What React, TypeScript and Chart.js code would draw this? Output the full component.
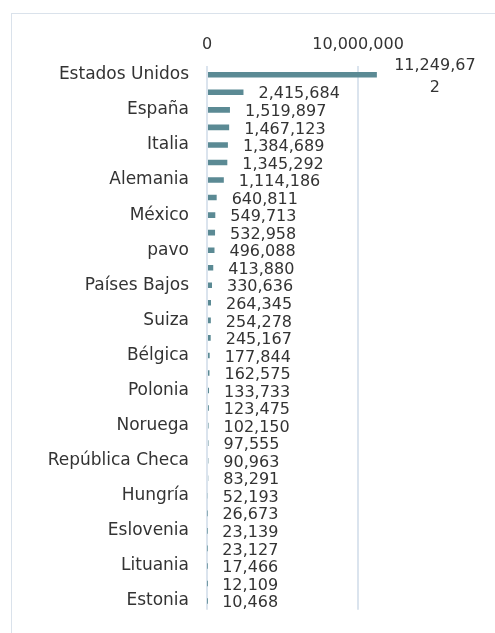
import React, { useEffect, useRef } from "react";
import { Chart, registerables } from "chart.js";

Chart.register(...registerables);

const categories: string[] = [
  "Estados Unidos", "Francia", "España", "Reino Unido", "Italia", "Canadá",
  "Alemania", "Japón", "México", "Austria", "pavo", "Suecia", "Países Bajos",
  "Israel", "Suiza", "Portugal", "Bélgica", "Grecia", "Polonia", "Dinamarca",
  "Noruega", "Irlanda", "República Checa", "Finlandia", "Hungría", "Eslovaquia",
  "Eslovenia", "Letonia", "Lituania", "Luxemburgo", "Estonia",
];

const values: number[] = [
  11249672, 2415684, 1519897, 1467123, 1384689, 1345292, 1114186, 640811,
  549713, 532958, 496088, 413880, 330636, 264345, 254278, 245167, 177844,
  162575, 133733, 123475, 102150, 97555, 90963, 83291, 52193, 26673, 23139,
  23127, 17466, 12109, 10468,
];

const axisMax = 20000000;
const axisStep = 10000000;

const FONT = "'DejaVu Sans', sans-serif";
const TEXT = "#333333";

const fmt = (v: number) => v.toLocaleString("en-US");

const valueLabels = {
  id: "valueLabels",
  afterDatasetsDraw(chart: any) {
    const ctx = chart.ctx;
    const meta = chart.getDatasetMeta(0);
    const maxW = 86;
    ctx.save();
    ctx.font = `16px ${FONT}`;
    ctx.fillStyle = TEXT;
    ctx.textBaseline = "middle";
    meta.data.forEach((bar: any, i: number) => {
      const text = fmt(values[i]);
      const left = bar.x + 15;
      const y = bar.y + 2;
      const w = ctx.measureText(text).width;
      if (w <= maxW) {
        ctx.textAlign = "left";
        ctx.fillText(text, left, y);
      } else {
        const lines: string[] = [];
        let cur = "";
        for (const ch of text) {
          if (ctx.measureText(cur + ch).width > maxW && cur) {
            lines.push(cur);
            cur = ch;
          } else cur += ch;
        }
        if (cur) lines.push(cur);
        const lh = 22;
        ctx.textAlign = "center";
        const cx = left + maxW / 2;
        const y0 = y - ((lines.length - 1) * lh) / 2;
        lines.forEach((ln, k) => ctx.fillText(ln, cx, y0 + k * lh));
      }
    });
    ctx.restore();
  },
};

export default function App() {
  const ref = useRef<HTMLCanvasElement | null>(null);
  useEffect(() => {
    if (!ref.current) return;
    const chart = new Chart(ref.current, {
      type: "bar",
      data: {
        labels: categories,
        datasets: [
          {
            data: values,
            backgroundColor: "#5b8a94",
            borderWidth: 0,
            barPercentage: 0.32,
            categoryPercentage: 1,
          },
        ],
      },
      options: {
        indexAxis: "y",
        responsive: false,
        animation: false,
        layout: { padding: { top: 0, right: 63, bottom: 0, left: 0 } },
        plugins: { legend: { display: false }, tooltip: { enabled: false } },
        scales: {
          x: {
            position: "top",
            min: 0,
            max: axisMax,
            afterFit: (s: any) => {
              s.height = 52;
            },
            ticks: {
              stepSize: axisStep,
              padding: 12,
              color: TEXT,
              font: { family: FONT, size: 16 },
              callback: (v: any) => (Number(v) >= axisMax ? "" : fmt(Number(v))),
            },
            grid: { color: "#dbe4ee", lineWidth: 2, drawTicks: false },
            border: { display: false },
          },
          y: {
            afterFit: (s: any) => {
              s.width = 195;
            },
            ticks: {
              autoSkip: false,
              padding: 18,
              color: TEXT,
              font: { family: FONT, size: 17 },
              callback: (_v: any, idx: number) => (idx % 2 === 0 ? categories[idx] : ""),
            },
            grid: { display: false, drawTicks: false },
            border: { display: false },
          },
        },
      },
      plugins: [valueLabels],
    });
    return () => chart.destroy();
  }, []);

  return (
    <div style={{ position: "fixed", inset: 0, overflow: "hidden", background: "#fff" }}>
      <div
        style={{
          position: "absolute",
          left: 11,
          top: 13,
          width: 620,
          height: 660,
          border: "1px solid #dae2eb",
        }}
      >
        <canvas ref={ref} width={560} height={624} style={{ display: "block" }} />
      </div>
    </div>
  );
}
